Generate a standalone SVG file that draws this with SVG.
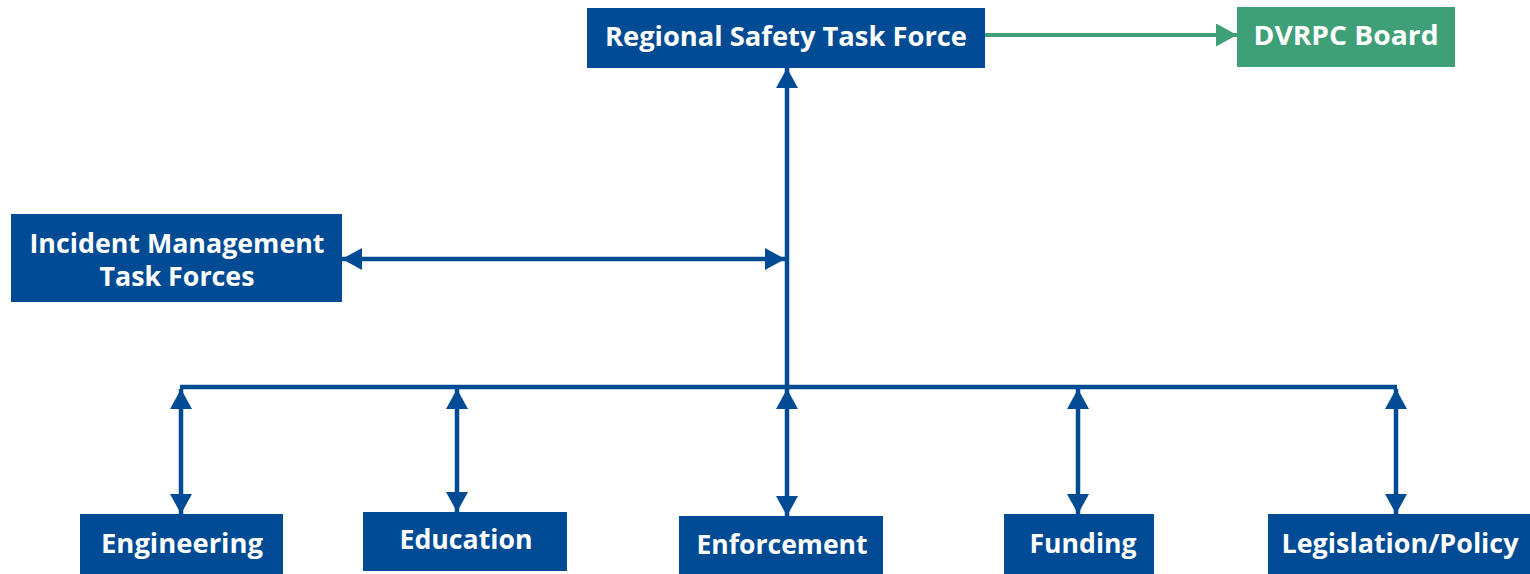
<svg xmlns="http://www.w3.org/2000/svg" width="1530" height="574" viewBox="0 0 1530 574">
  <style>
    .box { fill: #004B93; }
    .box-green { fill: #3FA077; }
    .label { font-family: "Open Sans", Lato, "Liberation Sans", sans-serif; font-weight: 700; font-size: 26px; fill: #ffffff; text-anchor: middle; }
    .wire { stroke: #004B93; stroke-width: 4.5; fill: none; }
    .wire-green { stroke: #3FA077; stroke-width: 4; fill: none; }
  </style>
  <defs>
    <marker id="arrow-blue" viewBox="0 0 20 22" refX="20" refY="11" markerWidth="20" markerHeight="22" markerUnits="userSpaceOnUse" orient="auto-start-reverse">
      <path d="M0,0 L20,11 L0,22 Z" fill="#004B93"/>
    </marker>
    <marker id="arrow-green" viewBox="0 0 21 23" refX="21" refY="11.5" markerWidth="21" markerHeight="23" markerUnits="userSpaceOnUse" orient="auto">
      <path d="M0,0 L21,11.5 L0,23 Z" fill="#3FA077"/>
    </marker>
  </defs>

  <!-- connectors -->
  <g id="connectors">
    <line class="wire-green" x1="985" y1="35" x2="1237" y2="35" marker-end="url(#arrow-green)"/>
    <line class="wire" x1="787" y1="387" x2="787" y2="68" marker-end="url(#arrow-blue)"/>
    <line class="wire" x1="342" y1="259" x2="785" y2="259" marker-start="url(#arrow-blue)" marker-end="url(#arrow-blue)"/>
    <line class="wire" x1="180" y1="387" x2="1397" y2="387"/>
    <line class="wire" x1="181" y1="389" x2="181" y2="514" marker-start="url(#arrow-blue)" marker-end="url(#arrow-blue)"/>
    <line class="wire" x1="457" y1="389" x2="457" y2="512" marker-start="url(#arrow-blue)" marker-end="url(#arrow-blue)"/>
    <line class="wire" x1="787" y1="389" x2="787" y2="516" marker-start="url(#arrow-blue)" marker-end="url(#arrow-blue)"/>
    <line class="wire" x1="1078" y1="389" x2="1078" y2="514" marker-start="url(#arrow-blue)" marker-end="url(#arrow-blue)"/>
    <line class="wire" x1="1396" y1="389" x2="1396" y2="514" marker-start="url(#arrow-blue)" marker-end="url(#arrow-blue)"/>
  </g>

  <!-- nodes -->
  <g id="regional-safety-task-force">
    <rect class="box" x="587" y="8" width="398" height="60"/>
    <text class="label" x="786" y="46" textLength="362" lengthAdjust="spacingAndGlyphs">Regional Safety Task Force</text>
  </g>
  <g id="dvrpc-board">
    <rect class="box-green" x="1237" y="7" width="218" height="60"/>
    <text class="label" x="1346" y="45" textLength="185" lengthAdjust="spacingAndGlyphs">DVRPC Board</text>
  </g>
  <g id="incident-management">
    <rect class="box" x="11" y="214" width="331" height="88"/>
    <text class="label" x="177" y="253" textLength="295" lengthAdjust="spacingAndGlyphs">Incident Management</text>
    <text class="label" x="177" y="286" textLength="155" lengthAdjust="spacingAndGlyphs">Task Forces</text>
  </g>
  <g id="engineering">
    <rect class="box" x="80" y="514" width="203" height="60"/>
    <text class="label" x="182" y="553" textLength="162" lengthAdjust="spacingAndGlyphs">Engineering</text>
  </g>
  <g id="education">
    <rect class="box" x="363" y="512" width="204" height="59"/>
    <text class="label" x="466" y="549" textLength="133" lengthAdjust="spacingAndGlyphs">Education</text>
  </g>
  <g id="enforcement">
    <rect class="box" x="679" y="516" width="204" height="58"/>
    <text class="label" x="782" y="554" textLength="171" lengthAdjust="spacingAndGlyphs">Enforcement</text>
  </g>
  <g id="funding">
    <rect class="box" x="1004" y="514" width="150" height="60"/>
    <text class="label" x="1083" y="553" textLength="107" lengthAdjust="spacingAndGlyphs">Funding</text>
  </g>
  <g id="legislation-policy">
    <rect class="box" x="1268" y="514" width="262" height="60"/>
    <text class="label" x="1400" y="553" textLength="237" lengthAdjust="spacingAndGlyphs">Legislation/Policy</text>
  </g>
</svg>
